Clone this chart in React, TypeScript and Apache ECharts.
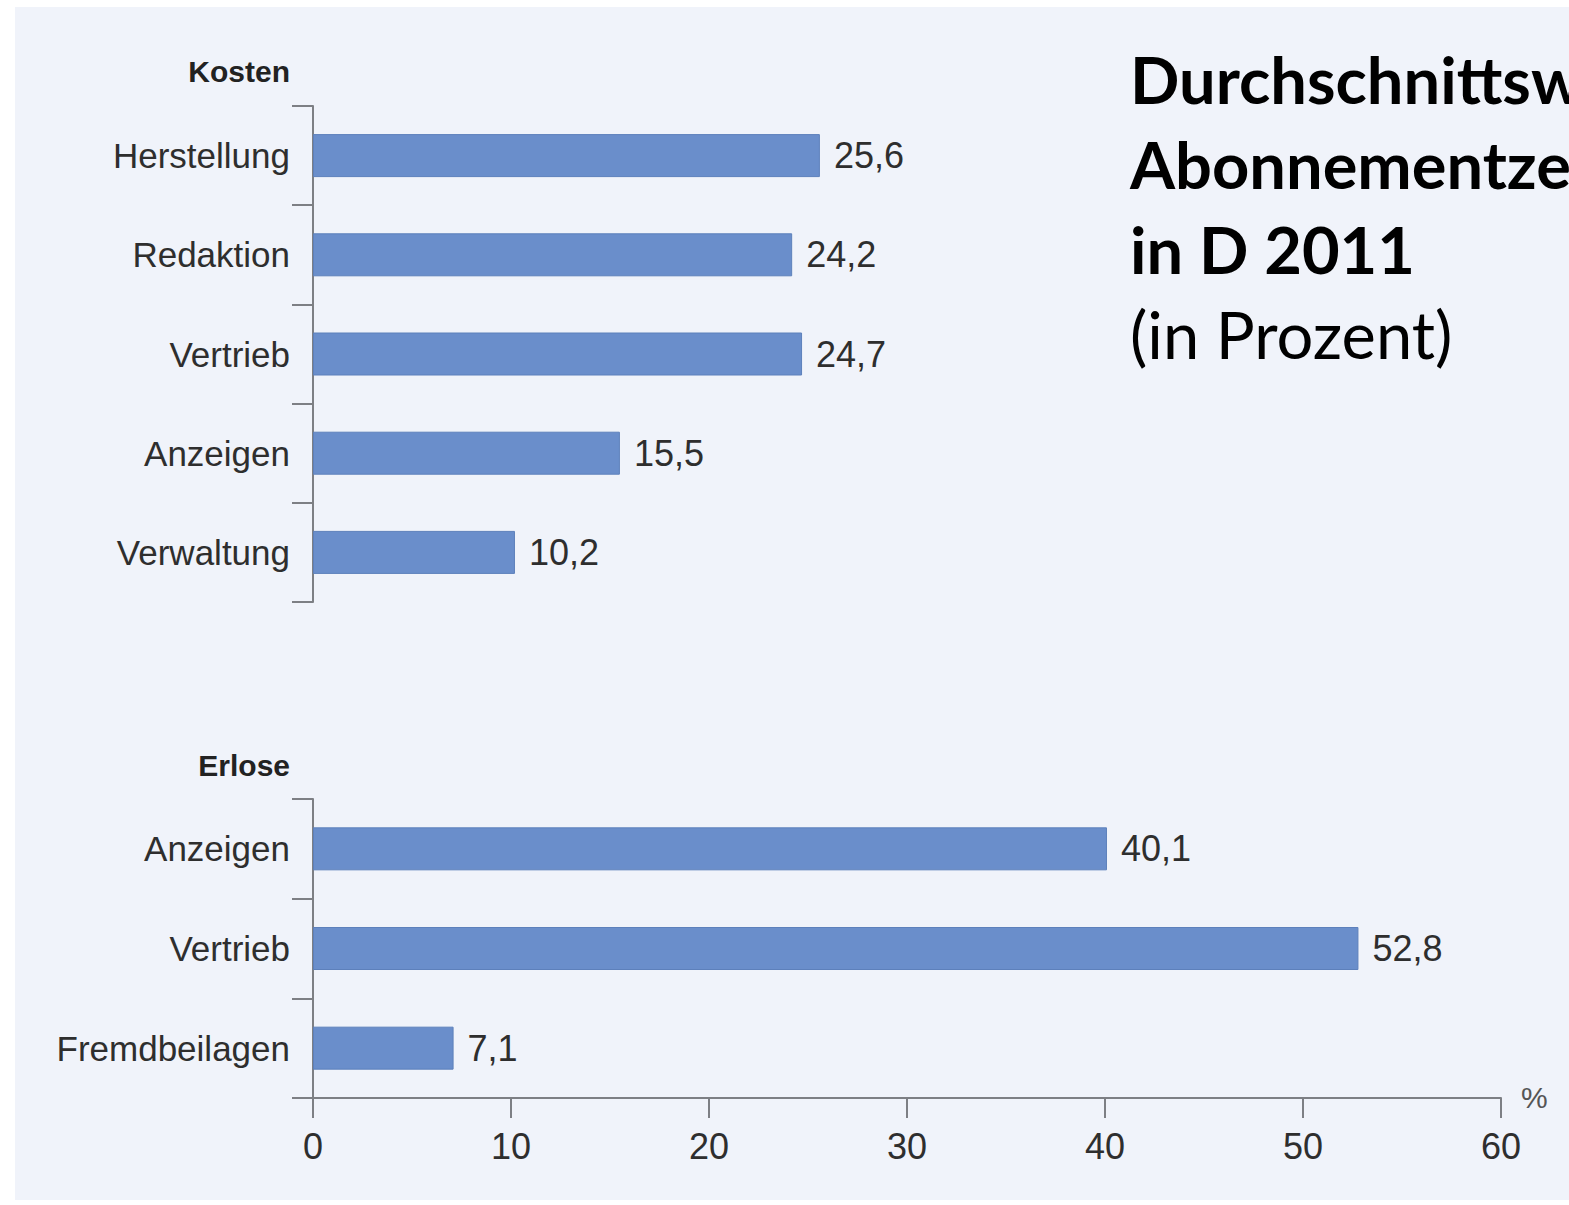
import React, { useEffect, useRef } from "react";
import * as echarts from "echarts";

const kostenCategories = ["Herstellung", "Redaktion", "Vertrieb", "Anzeigen", "Verwaltung"];
const kostenValues = [25.6, 24.2, 24.7, 15.5, 10.2];
const erloeseCategories = ["Anzeigen", "Vertrieb", "Fremdbeilagen"];
const erloeseValues = [40.1, 52.8, 7.1];
const xTicks = { min: 0, max: 60, interval: 10 };
const titleBold = ["Durchschnittsw", "Abonnementze", "in D 2011"];
const titleSub = "(in Prozent)";
const groupHeaders = ["Kosten", "Erlose"];

const BAR = "#6a8ecb";
const TXT = "#2e2e2e";
const AXIS = "#7d7f84";
const LABEL_FONT = "'Liberation Sans', Arial, sans-serif";
const TITLE_FONT = "Lato, 'Open Sans', sans-serif";

const fmt = (v: number) => String(v).replace(".", ",");

export default function App() {
  const ref = useRef<HTMLDivElement>(null);
  useEffect(() => {
    document.body.style.margin = "0";
    if (!ref.current) return;
    const chart = echarts.init(ref.current, null, { renderer: "svg" });
    const catAxis = (gridIndex: number, data: string[]) => ({
      type: "category" as const,
      gridIndex,
      data,
      inverse: true,
      axisLine: { show: true, lineStyle: { color: AXIS, width: 2 } },
      axisTick: { show: true, length: 21, lineStyle: { color: AXIS, width: 2 } },
      axisLabel: {
        fontSize: 35,
        fontFamily: LABEL_FONT,
        color: TXT,
        margin: 23,
      },
      splitLine: { show: false },
    });
    const valueLabel = {
      show: true,
      position: "right" as const,
      distance: 14,
      fontSize: 36,
      fontFamily: LABEL_FONT,
      color: TXT,
      formatter: (p: any) => fmt(p.value),
    };
    chart.setOption({
      animation: false,
      backgroundColor: "#ffffff",
      grid: [
        { left: 313, width: 1188, top: 106, height: 496 },
        { left: 313, width: 1188, top: 799, height: 299 },
      ],
      xAxis: [
        { type: "value", gridIndex: 0, ...xTicks, show: false, splitLine: { show: false } },
        {
          type: "value",
          gridIndex: 1,
          ...xTicks,
          axisLine: { show: true, lineStyle: { color: AXIS, width: 2 } },
          axisTick: { show: true, length: 20, lineStyle: { color: AXIS, width: 2 } },
          axisLabel: { fontSize: 36, fontFamily: LABEL_FONT, color: TXT, margin: 30 },
          splitLine: { show: false },
          name: "%",
          nameLocation: "end",
          nameGap: 20,
          nameTextStyle: {
            fontSize: 30,
            fontFamily: LABEL_FONT,
            color: "#555",
            verticalAlign: "bottom",
            padding: [0, 0, -14, 0],
          },
        },
      ],
      yAxis: [catAxis(0, kostenCategories), catAxis(1, erloeseCategories)],
      series: [
        {
          type: "bar",
          xAxisIndex: 0,
          yAxisIndex: 0,
          data: kostenValues,
          barWidth: 43,
          itemStyle: { color: BAR, borderColor: "#5d80bb", borderWidth: 1 },
          label: valueLabel,
        },
        {
          type: "bar",
          xAxisIndex: 1,
          yAxisIndex: 1,
          data: erloeseValues,
          barWidth: 43,
          itemStyle: { color: BAR, borderColor: "#5d80bb", borderWidth: 1 },
          label: valueLabel,
        },
      ],
      graphic: [
        {
          type: "rect",
          z: -10,
          silent: true,
          shape: { x: 15, y: 7, width: 1569 - 15, height: 1200 - 7 },
          style: { fill: "#f0f3fa" },
        },
        {
          type: "text",
          x: 290,
          y: 71,
          style: {
            text: groupHeaders[0],
            fontSize: 30,
            fontWeight: "bold",
            fontFamily: LABEL_FONT,
            fill: "#222",
            align: "right",
            verticalAlign: "middle",
          },
        },
        {
          type: "text",
          x: 290,
          y: 765,
          style: {
            text: groupHeaders[1],
            fontSize: 30,
            fontWeight: "bold",
            fontFamily: LABEL_FONT,
            fill: "#222",
            align: "right",
            verticalAlign: "middle",
          },
        },
        ...titleBold.map((t, i) => ({
          type: "text",
          x: 1130,
          y: 79 + i * 85,
          style: {
            text: t,
            fontSize: 65,
            fontWeight: "bold",
            fontFamily: TITLE_FONT,
            fill: "#000",
            align: "left",
            verticalAlign: "middle",
          },
        })),
        {
          type: "text",
          x: 1130,
          y: 79 + 3 * 85,
          style: {
            text: titleSub,
            fontSize: 65,
            fontWeight: "normal",
            fontFamily: TITLE_FONT,
            fill: "#000",
            align: "left",
            verticalAlign: "middle",
          },
        },
      ],
    });
    return () => chart.dispose();
  }, []);
  return <div ref={ref} style={{ width: 1569, height: 1205 }} />;
}
